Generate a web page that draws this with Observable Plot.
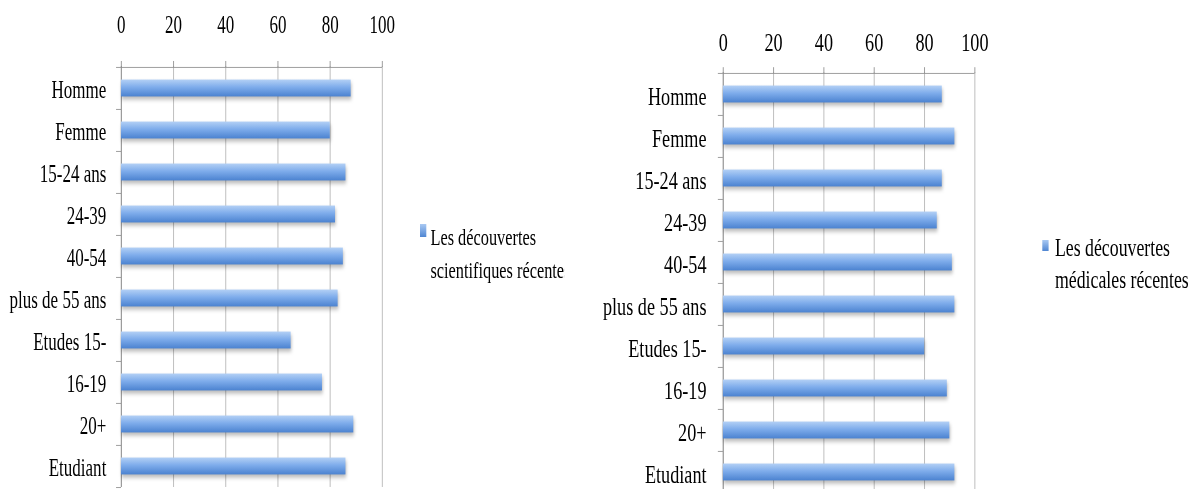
<!DOCTYPE html>
<html>
<head>
<meta charset="utf-8">
<script src="https://cdn.jsdelivr.net/npm/d3@7"></script>
<script src="https://cdn.jsdelivr.net/npm/@observablehq/plot@0.6"></script>
<style>
  html, body { margin: 0; padding: 0; background: #fff; width: 1197px; height: 489px; overflow: hidden; }
  #stage { position: absolute; left: 0; top: 0; height: 489px; transform-origin: 0 0; font-family: "Liberation Serif", serif; }
  .panel { position: absolute; top: 0; height: 489px; overflow: hidden; }
  .panel svg { position: absolute; left: 0; top: 0; }
  .legend { position: absolute; color: #000; white-space: nowrap; }
  .swatch { position: absolute; background: linear-gradient(to bottom, #a9c9f3, #4f86d2); }
  g[aria-label="x-axis tick"] { stroke: #8c8c8c; }
  g[aria-label="bar"] { filter: drop-shadow(1px 3px 2px rgba(0,0,0,0.28)); }
</style>
</head>
<body>
<svg width="0" height="0" style="position:absolute">
  <defs>
    <linearGradient id="barGrad" x1="0" y1="0" x2="0" y2="1">
      <stop offset="0" stop-color="#b3d0f5"/>
      <stop offset="0.45" stop-color="#7eaceb"/>
      <stop offset="1" stop-color="#4b82d0"/>
    </linearGradient>
  </defs>
</svg>
<div id="stage">
  <div class="panel" id="left"></div>
  <div class="panel" id="right"></div>
</div>
<script>
const categories = ["Homme", "Femme", "15-24 ans", "24-39", "40-54", "plus de 55 ans", "Etudes 15-", "16-19", "20+", "Etudiant"];
const sciValues = [88, 80, 86, 82, 85, 83, 65, 77, 89, 86];
const medValues = [87, 92, 87, 85, 91, 92, 80, 89, 90, 92];
const xTicks = [0, 20, 40, 60, 80, 100];
const sciLegend = ["Les découvertes", "scientifiques récentes"];
const medLegend = ["Les découvertes", "médicales récentes"];

// horizontal squeeze of the original picture
const S = 0.70;
const u = v => v / S;
const stage = document.getElementById("stage");
stage.style.width = u(1197) + "px";
stage.style.transform = `scaleX(${S})`;

function chart(values, o) {
  const data = categories.map((c, i) => ({label: c, value: values[i]}));
  const band = (o.height - o.marginTop - o.marginBottom) / categories.length;
  const inset = (band - 17) / 2;
  return Plot.plot({
    width: o.width,
    height: o.height,
    marginLeft: o.marginLeft,
    marginRight: o.marginRight,
    marginTop: o.marginTop,
    marginBottom: o.marginBottom,
    style: {fontFamily: "Liberation Serif, serif", fontSize: o.fontSize + "px", color: "#000", background: "transparent", overflow: "visible"},
    x: {domain: [0, 100]},
    y: {domain: categories, padding: 0},
    marks: [
      Plot.ruleX(xTicks, {stroke: "#b4b4b4", strokeWidth: 1}),
      Plot.ruleX([0], {stroke: "#8c8c8c", strokeWidth: 1}),
      Plot.ruleY(categories, {y: d => d, x1: -o.tickUnits, x2: 0, dy: -band / 2, stroke: "#8c8c8c"}),
      Plot.ruleY([categories[categories.length - 1]], {y: d => d, x1: -o.tickUnits, x2: 0, dy: band / 2, stroke: "#8c8c8c"}),
      Plot.ruleY([categories[0]], {y: d => d, x1: 0, x2: 100, dy: -band / 2, stroke: "#8c8c8c"}),
      Plot.barX(data, {x: "value", y: "label", fill: "url(#barGrad)", insetTop: inset, insetBottom: inset}),
      Plot.axisX({anchor: "top", ticks: xTicks, tickSize: 6, tickPadding: o.padX, label: null, fill: "#000"}),
      Plot.axisY({anchor: "left", tickSize: 0, tickPadding: o.padY, label: null, dy: 2, fill: "#000"})
    ]
  });
}

function legend(panel, lines, o) {
  const sw = document.createElement("div");
  sw.className = "swatch";
  sw.style.left = o.swX + "px"; sw.style.top = o.swY + "px";
  sw.style.width = o.swW + "px"; sw.style.height = o.swH + "px";
  panel.appendChild(sw);
  const lg = document.createElement("div");
  lg.className = "legend";
  lg.style.left = o.x + "px"; lg.style.top = o.y + "px";
  lg.style.fontSize = o.fontSize + "px"; lg.style.lineHeight = o.lineHeight + "px";
  lg.innerHTML = lines.map(l => `<div>${l}</div>`).join("");
  panel.appendChild(lg);
}

const L = document.getElementById("left");
L.style.left = "0px"; L.style.width = u(564) + "px";
L.appendChild(chart(sciValues, {width: u(564), height: 500, marginLeft: u(121), marginRight: u(564 - 382), marginTop: 66, marginBottom: 13, padX: 27, padY: u(15), tickUnits: 1.9, fontSize: 24.3}));
legend(L, sciLegend, {swX: u(420), swY: 224, swW: u(6.5), swH: 13, x: u(430.5), y: 220.5, fontSize: 23.3, lineHeight: 33});

const R = document.getElementById("right");
R.style.left = u(564) + "px"; R.style.width = u(633) + "px";
R.appendChild(chart(medValues, {width: u(633), height: 500, marginLeft: u(722.7 - 564), marginRight: u(633 - (974.3 - 564)), marginTop: 72.2, marginBottom: 6.8, padX: 16, padY: u(16.7), tickUnits: 2.0, fontSize: 26}));
legend(R, medLegend, {swX: u(1042 - 564), swY: 240, swW: u(6.5), swH: 11, x: u(1055 - 564), y: 231, fontSize: 25.4, lineHeight: 32});
</script>
</body>
</html>
